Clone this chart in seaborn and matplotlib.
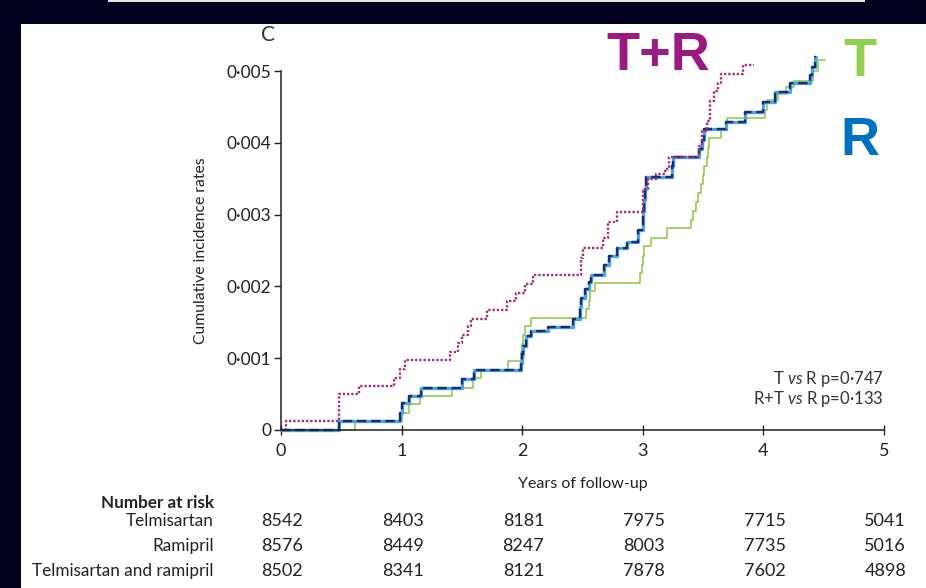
import matplotlib
matplotlib.use("Agg")
import matplotlib.pyplot as plt
import matplotlib.transforms as mtransforms
from matplotlib.patches import Rectangle
import numpy as np
import pandas as pd
import seaborn as sns

# step change points (years, cumulative incidence)
tr_time = [0, 0.04, 0.48, 0.65, 0.94, 0.99, 1.03, 1.40, 1.47, 1.50, 1.55, 1.575,
           1.71, 1.87, 1.95, 2.02, 2.09, 2.49, 2.50, 2.67, 2.71, 2.79, 3.00, 3.04,
           3.11, 3.18, 3.22, 3.47, 3.49, 3.53, 3.56, 3.59, 3.62, 3.65, 3.83, 3.92]
tr_rate = [0, 0.00012, 0.00050, 0.00061, 0.00072, 0.00085, 0.00097, 0.00109,
           0.00121, 0.00133, 0.00145, 0.00155, 0.00167, 0.00179, 0.00191, 0.00204,
           0.00216, 0.00240, 0.00253, 0.00267, 0.00290, 0.00303, 0.00336, 0.00349,
           0.00356, 0.00364, 0.00380, 0.00395, 0.00416, 0.00430, 0.00458, 0.00472,
           0.00483, 0.00496, 0.00508, 0.00508]

r_time = [0, 0.48, 0.99, 1.00, 1.06, 1.16, 1.50, 1.60, 1.99, 2.00, 2.01, 2.03,
          2.07, 2.21, 2.42, 2.48, 2.49, 2.52, 2.55, 2.57, 2.68, 2.72, 2.79, 2.87,
          2.96, 3.00, 3.005, 3.01, 3.02, 3.03, 3.24, 3.25, 3.47, 3.49, 3.51, 3.69,
          3.85, 4.00, 4.10, 4.22, 4.39, 4.40, 4.43, 4.44]
r_rate = [0, 0.00012, 0.00024, 0.00037, 0.00047, 0.00059, 0.00071, 0.00083,
          0.00094, 0.00106, 0.00117, 0.00131, 0.00138, 0.00144, 0.00155, 0.00172,
          0.00184, 0.00196, 0.00206, 0.00216, 0.00230, 0.00242, 0.00253, 0.00262,
          0.00279, 0.00291, 0.00305, 0.00320, 0.00336, 0.00353, 0.00368, 0.00380,
          0.00392, 0.00404, 0.00419, 0.00429, 0.00443, 0.00457, 0.00471, 0.00483,
          0.00494, 0.00506, 0.00520, 0.00520]

t_time = [0, 0.61, 1.00, 1.06, 1.15, 1.42, 1.59, 1.66, 1.88, 1.99, 2.00, 2.01,
          2.02, 2.07, 2.53, 2.55, 2.56, 2.60, 2.98, 2.99, 3.00, 3.01, 3.07, 3.20,
          3.40, 3.42, 3.44, 3.46, 3.48, 3.50, 3.51, 3.53, 3.54, 3.55, 3.65, 3.70,
          4.01, 4.03, 4.12, 4.19, 4.25, 4.41, 4.45, 4.51]
t_rate = [0, 0.00012, 0.00024, 0.00036, 0.00048, 0.00059, 0.00072, 0.00083,
          0.00096, 0.00108, 0.00120, 0.00133, 0.00145, 0.00156, 0.00168, 0.00180,
          0.00193, 0.00205, 0.00218, 0.00230, 0.00243, 0.00256, 0.00268, 0.00281,
          0.00293, 0.00305, 0.00318, 0.00330, 0.00343, 0.00355, 0.00368, 0.00380,
          0.00393, 0.00406, 0.00418, 0.00434, 0.00446, 0.00460, 0.00468, 0.00478,
          0.00486, 0.00500, 0.00516, 0.00516]

years = [0, 1, 2, 3, 4, 5]
y_ticks = [0, 0.001, 0.002, 0.003, 0.004, 0.005]
y_tick_labels = ["0", "0·001", "0·002", "0·003", "0·004", "0·005"]

risk_groups = ["Telmisartan", "Ramipril", "Telmisartan and ramipril"]
risk_telmisartan = [8542, 8403, 8181, 7975, 7715, 5041]
risk_ramipril = [8576, 8449, 8247, 8003, 7735, 5016]
risk_both = [8502, 8341, 8121, 7878, 7602, 4898]

sns.set_style("ticks")
plt.rcParams["font.family"] = ["Lato", "DejaVu Sans"]
plt.rcParams["mathtext.fontset"] = "custom"
plt.rcParams["mathtext.rm"] = "Lato"
plt.rcParams["mathtext.it"] = "Lato:italic"

fig = plt.figure(figsize=(9.26, 5.88), dpi=100, facecolor="#02021e")
fig.patches.append(Rectangle((21 / 926, 0), 1, 1 - 24 / 588, transform=fig.transFigure,
                             facecolor="white", edgecolor="none", zorder=-10))
fig.patches.append(Rectangle((108 / 926, 1 - 2 / 588), 757 / 926, 2 / 588,
                             transform=fig.transFigure, facecolor="#dfe6ee",
                             edgecolor="none", zorder=-10))

ax = fig.add_axes([281 / 926, 1 - 430 / 588, 603 / 926, 359 / 588])
ax.set_facecolor("none")
ax.set_zorder(5)

df_tr = pd.DataFrame({"time": tr_time, "rate": tr_rate})
df_r = pd.DataFrame({"time": r_time, "rate": r_rate})
df_t = pd.DataFrame({"time": t_time, "rate": t_rate})

common = dict(drawstyle="steps-post", estimator=None, sort=False, clip_on=False)
sns.lineplot(data=df_t, x="time", y="rate", ax=ax, color="#8cc63e", lw=1.1, **common)
sns.lineplot(data=df_r, x="time", y="rate", ax=ax, color="#4aa6e0", lw=2.4, **common)
sns.lineplot(data=df_r, x="time", y="rate", ax=ax, color="#1c2a78", lw=1.7,
             linestyle=(0, (4, 2)), **common)
sns.lineplot(data=df_tr, x="time", y="rate", ax=ax, color="#a8307a", lw=1.7,
             linestyle=(0, (1, 0.8)), **common)

ax.set_xlim(0, 5)
ax.set_ylim(0, 0.005)
ax.set_xticks(years)
ax.set_xticklabels([str(y) for y in years])
ax.set_yticks(y_ticks)
ax.set_yticklabels(y_tick_labels)
ax.tick_params(axis="y", direction="out", length=5, width=1, pad=2, labelsize=12.5,
               colors="#222222")
ax.tick_params(axis="x", direction="inout", length=7, width=1, pad=6, labelsize=13,
               colors="#222222")
sns.despine(ax=ax)
for side in ["left", "bottom"]:
    ax.spines[side].set_linewidth(1.1)
    ax.spines[side].set_color("#222222")

ax.set_xlabel("Years of follow-up", fontsize=11.5, color="#222222", labelpad=13)
ax.set_ylabel("Cumulative incidence rates", fontsize=11.3, color="#222222", labelpad=13)

ax.text(-0.022, 1.1, "C", transform=ax.transAxes, fontsize=15, color="#333333",
        ha="center", va="center")

ax.text(1.0, 0.143, r"T $\it{vs}$ R p=0·747", transform=ax.transAxes, ha="right",
        va="center", fontsize=12, color="#333333")
ax.text(1.0, 0.085, r"R+T $\it{vs}$ R p=0·133", transform=ax.transAxes, ha="right",
        va="center", fontsize=12, color="#333333")

fig.text(658 / 926, 1 - 56 / 588, "T+R", fontsize=39, fontweight="bold",
         family="Liberation Sans", color="#9b1b83", ha="center", va="center")
fig.text(860 / 926, 1 - 62 / 588, "T", fontsize=39, fontweight="bold",
         family="Liberation Sans", color="#92d050", ha="center", va="center")
fig.text(860 / 926, 1 - 141 / 588, "R", fontsize=39, fontweight="bold",
         family="Liberation Sans", color="#0070c0", ha="center", va="center")

# number at risk table
blend = mtransforms.blended_transform_factory(ax.transData, fig.transFigure)
fig.text(214 / 926, 1 - 503 / 588, "Number at risk", fontsize=12.3, fontweight="bold",
         ha="right", va="center", color="#222222")
rows = [risk_telmisartan, risk_ramipril, risk_both]
row_y = [521, 546, 571]
for name, vals, py in zip(risk_groups, rows, row_y):
    fig.text(214 / 926, 1 - py / 588, name, fontsize=12.3, ha="right", va="center",
             color="#222222")
    for x, v in zip(years, vals):
        ax.text(x + 0.01, 1 - py / 588, str(v), transform=blend, fontsize=13,
                ha="center", va="center", color="#222222")

fig.savefig("out.png", dpi=100, facecolor=fig.get_facecolor())
